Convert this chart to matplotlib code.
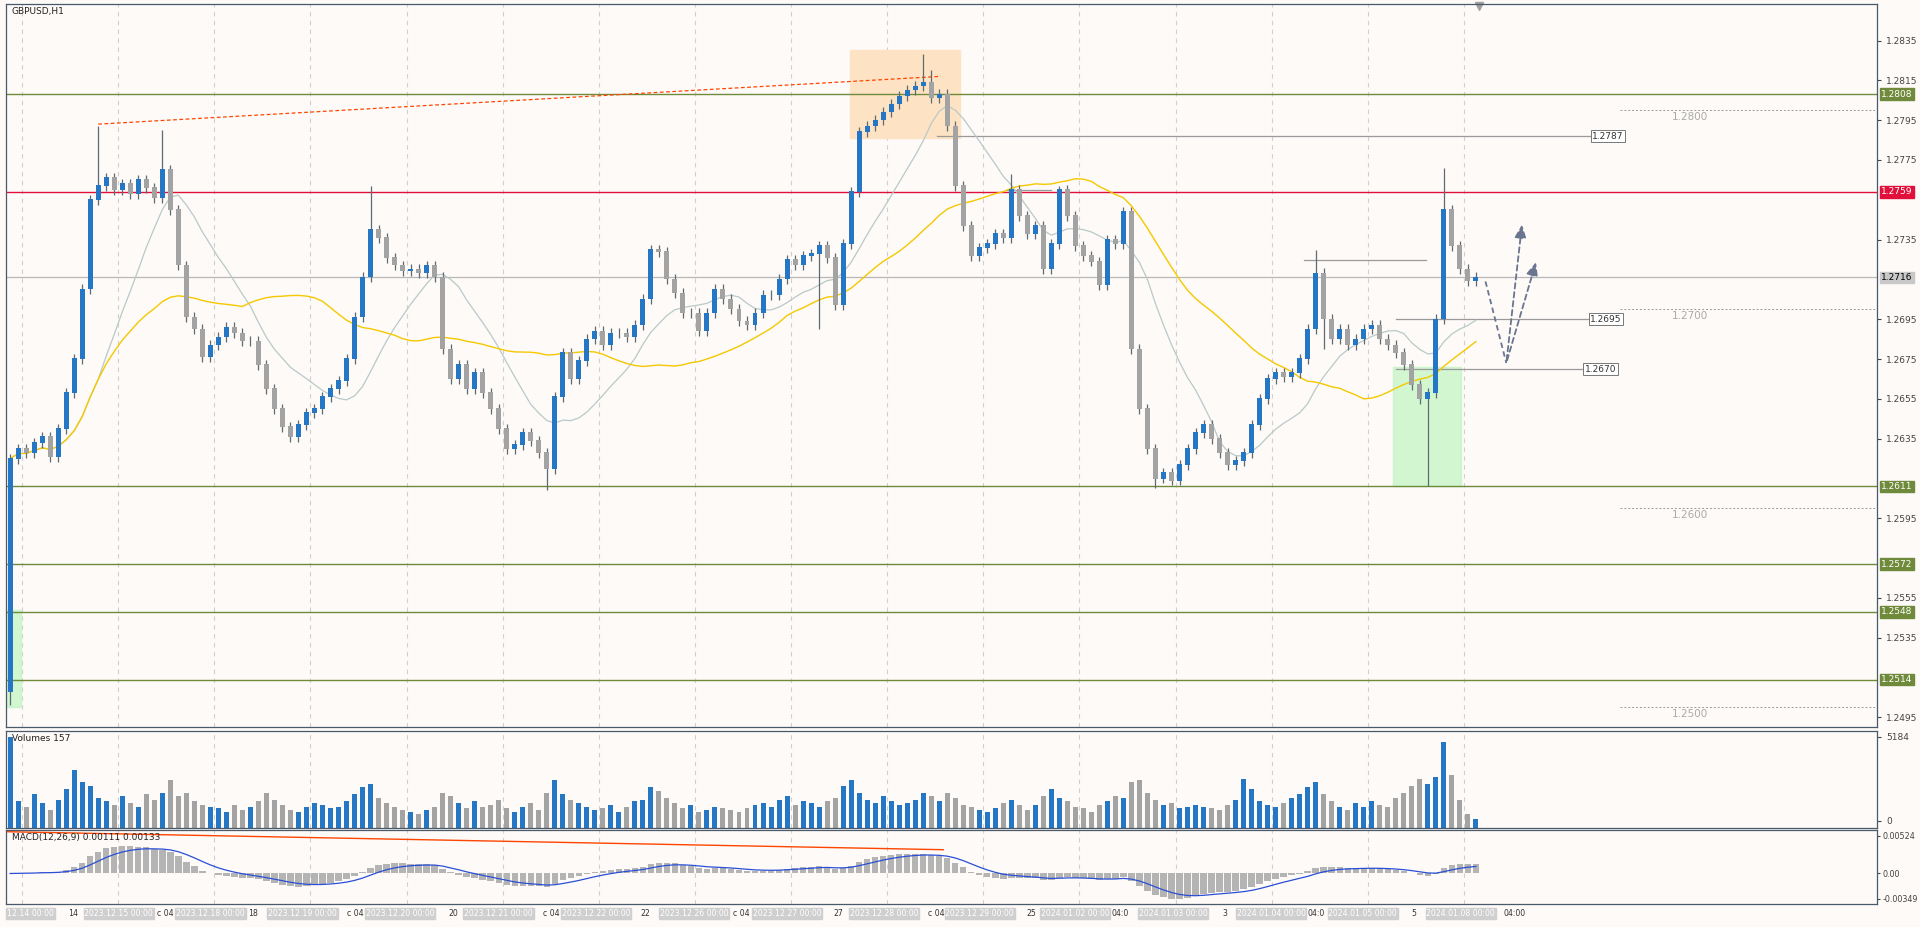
import numpy as np
import pandas as pd
import matplotlib
matplotlib.use("Agg")
import matplotlib.pyplot as plt
from matplotlib.patches import Rectangle
from matplotlib.transforms import blended_transform_factory as btf

# ---- data (2-hour bars, close in pips above 1.2500) ----
first_open = 8
closes = [125,130,128,133,136,126,140,158,175,210,
          255,262,266,260,263,258,265,261,256,270,
          250,222,196,190,176,182,186,191,188,184,
          184,172,160,150,141,136,142,148,150,156,
          160,164,175,196,216,240,236,226,222,219,
          220,218,222,216,180,165,172,160,168,158,
          150,140,130,132,138,134,128,120,156,178,
          165,174,185,189,182,188,188,186,192,205,
          230,229,215,208,198,198,189,198,210,205,
          200,194,192,198,207,207,215,225,222,227,
          228,232,226,202,233,259,289,292,295,299,
          303,307,310,312,314,306,308,292,262,242,
          227,231,233,238,236,260,247,238,242,220,
          233,260,247,232,227,224,212,235,233,249,
          180,150,130,115,118,114,122,130,138,142,
          135,128,122,124,128,142,155,165,168,166,
          168,175,190,218,195,185,190,182,185,190,
          192,185,182,178,172,162,155,158,195,250,
          232,220,214,216]
high_marks = {11: 292, 19: 290, 45: 262, 114: 328, 115: 320, 125: 268, 131: 262, 163: 230, 179: 271}
low_marks = {0: 1, 67: 109, 101: 190, 143: 110, 177: 111, 164: 180}
volumes = [5184,1500,1200,1900,1400,1000,1600,2200,3300,2600,
           2400,1700,1500,1300,1800,1400,1200,1900,1600,2000,
           2700,1800,2000,1500,1300,1200,1100,900,1300,1000,
           1200,1500,2000,1600,1300,1000,900,1200,1400,1300,
           1100,1200,1500,1900,2300,2500,1700,1400,1200,1000,
           900,800,1000,1200,2000,1800,1400,1100,1500,1200,
           1300,1600,1100,900,1200,1400,1000,2000,2700,1900,
           1600,1400,1200,1000,1100,1300,900,1200,1500,1600,
           2300,2100,1700,1400,1100,1300,900,1000,1200,1100,
           1000,900,1100,1300,1400,1200,1600,1800,1300,1500,
           1400,1200,1500,1700,2400,2700,2000,1600,1400,1800,
           1500,1300,1400,1600,2000,1800,1500,2000,1700,1300,
           1200,1000,900,1100,1400,1600,1300,1000,1300,1800,
           2200,1700,1500,1200,1100,900,1300,1500,1800,1700,
           2600,2700,2000,1600,1300,1400,1100,1200,1300,1200,
           1100,1000,1300,1600,2800,2200,1500,1300,1200,1400,
           1700,1900,2300,2600,1900,1500,1200,1000,1400,1200,
           1500,1300,1200,1700,2000,2400,2800,2500,2900,4900,
           3000,1600,800,500]
h_levels = [1.2808, 1.2611, 1.2572, 1.2548, 1.2514]
red_level = 1.2759
price_now = 1.2716
round_levels = ["1.2800", "1.2700", "1.2600", "1.2500"]
seg_levels = [(1.2787, 115.7, 197.5), (1.2695, 173.0, 197.3), (1.2670, 173.0, 196.6)]
date_labels = [(25, "12.14 00:00", True), (60, "14", False), (97, "2023.12.15 00:00", True), (135, "c 04", False),
               (172, "2023.12.18 00:00", True), (207, "18", False), (247, "2023.12.19 00:00", True), (290, "c 04", False),
               (327, "2023.12.20 00:00", True), (370, "20", False), (407, "2023.12.21 00:00", True), (450, "c 04", False),
               (487, "2023.12.22 00:00", True), (527, "22", False), (567, "2023.12.26 00:00", True), (605, "c 04", False),
               (643, "2023.12.27 00:00", True), (685, "27", False), (722, "2023.12.28 00:00", True), (765, "c 04", False),
               (800, "2023.12.29 00:00", True), (842, "25", False), (878, "2024.01.02 00:00", True), (915, "04:0", False),
               (958, "2024.01.03 00:00", True), (1000, "3", False), (1038, "2024.01.04 00:00", True), (1075, "04:0", False),
               (1113, "2024.01.05 00:00", True), (1155, "5", False), (1193, "2024.01.08 00:00", True), (1237, "04:00", False)]

# ---- derived series ----
c = 1.25 + np.array(closes) / 10000.0
o = np.concatenate([[1.25 + first_open / 10000.0], c[:-1]])
n = len(c)
idx = np.arange(n)
hi = np.maximum(o, c) + 0.00025
lo = np.minimum(o, c) - 0.00025
for k, v in high_marks.items():
    hi[k] = 1.25 + v / 10000.0
for k, v in low_marks.items():
    lo[k] = 1.25 + v / 10000.0
s = pd.Series(c)
ma_fast = s.rolling(12, min_periods=1).mean()
ma_slow = s.rolling(30, min_periods=1).mean()
macd = s.ewm(span=9, adjust=False).mean() - s.ewm(span=20, adjust=False).mean()
signal = macd.ewm(span=6, adjust=False).mean()

BG = "#fdfaf8"
BLUE = "#2676c6"
GRAY = "#a3a3a3"
WICK = "#5f6b73"
OLIVE = "#6f8a3a"
W, H = 1568.0, 757.0

fig = plt.figure(figsize=(19.2, 9.27), dpi=100, facecolor=BG)
ax = fig.add_axes([5 / W, 1 - 594 / H, 1528 / W, 591 / H], facecolor=BG)
axv = fig.add_axes([5 / W, 1 - 676 / H, 1528 / W, 79 / H], facecolor=BG)
axm = fig.add_axes([5 / W, 1 - 738 / H, 1528 / W, 60 / H], facecolor=BG)
XL = (-0.5, 233.1)
grid_x = 1.5 + 12 * np.arange(16)
for a in (ax, axv, axm):
    a.set_xlim(*XL)
    a.set_xticks([])
    for g in grid_x:
        a.axvline(g, color="#cfcfcf", lw=0.8, ls=(0, (4, 4)), zorder=0)
    for sp in a.spines.values():
        sp.set_color("#4a5a6a")
        sp.set_linewidth(0.9)
    a.yaxis.tick_right()
    a.tick_params(axis="y", labelsize=6.5, colors="#444444", length=3)

# main
ax.set_ylim(1.2490, 1.28535)
tick_vals = [v for v in np.round(np.arange(1.2495, 1.2836, 0.002), 4)
             if min(abs(v - l) for l in h_levels + [red_level, price_now]) > 0.0006]
ax.set_yticks(tick_vals)
ax.set_yticklabels([f"{v:.4f}" for v in tick_vals])
ax.add_patch(Rectangle((104.8, 1.2786), 13.8, 0.0044, color="#fde3c3", zorder=1))
ax.add_patch(Rectangle((172.6, 1.2611), 8.5, 0.0060, color="#c6f5c6", zorder=1, alpha=0.8))
ax.add_patch(Rectangle((-0.5, 1.2500), 1.8, 0.0049, color="#c6f5c6", zorder=1, alpha=0.8))
for lv in h_levels:
    ax.axhline(lv, color=OLIVE, lw=1.0, zorder=2)
ax.axhline(red_level, color="#e0103a", lw=1.0, zorder=2)
ax.axhline(price_now, color="#b8b8b8", lw=0.9, zorder=2)
for lv, x0, x1 in seg_levels:
    ax.plot([x0, x1], [lv, lv], color="#9a9a9a", lw=0.9, zorder=2)
    ax.text(x1, lv, f"{lv:.4f}", fontsize=6.5, va="center", ha="left", color="#333333",
            bbox=dict(boxstyle="square,pad=0.15", fc="white", ec="#777777", lw=0.7), zorder=6)
ax.plot([161.6, 176.8], [1.2725, 1.2725], color="#9a9a9a", lw=0.9, zorder=2)
ax.plot([124.4, 130.0], [1.2760, 1.2760], color="#9a9a9a", lw=0.9, zorder=2)
ax.plot([11.0, 116.2], [1.2793, 1.2817], color="#ff4500", lw=0.9, ls=(0, (3, 2)), zorder=3)
for i, lab in enumerate(round_levels):
    v = float(lab)
    ax.plot([201.0, 233.1], [v, v], color="#9a9a9a", lw=0.7, ls=(0, (2, 2)), zorder=2)
    ax.text(207.5, v - 0.00035, lab, fontsize=7.5, color="#aaaaaa", va="center", ha="left")

ax.plot(idx, ma_fast, color="#b9c9c9", lw=0.9, zorder=3)
ax.plot(idx, ma_slow, color="#f5c800", lw=1.0, zorder=3)
up = c >= o
cols = np.where(up, BLUE, GRAY)
ax.vlines(idx, lo, hi, color=WICK, lw=0.9, zorder=4)
ax.bar(idx, np.abs(c - o) + 0.00003, bottom=np.minimum(o, c), width=0.62, color=cols, zorder=5)

# dashed forecast arrows
arr = dict(arrowstyle="-|>,head_width=0.35,head_length=0.8", color="#6a7590", lw=1.3, ls=(0, (3, 2)))
ax.plot([184.2, 186.8], [1.2714, 1.2673], color="#6a7590", lw=1.3, ls=(0, (3, 2)), zorder=6)
ax.annotate("", xy=(188.8, 1.2744), xytext=(186.8, 1.2673), arrowprops=arr, zorder=6)
ax.annotate("", xy=(190.6, 1.2725), xytext=(186.8, 1.2673), arrowprops=arr, zorder=6)

tr = btf(ax.transAxes, ax.transData)
for lv in h_levels:
    ax.text(1.002, lv, f"{lv:.4f}", transform=tr, fontsize=6.5, color="white", va="center", ha="left",
            bbox=dict(boxstyle="square,pad=0.15", fc=OLIVE, ec=OLIVE), zorder=7, clip_on=False)
ax.text(1.002, red_level, f"{red_level:.4f}", transform=tr, fontsize=6.5, color="white", va="center",
        bbox=dict(boxstyle="square,pad=0.15", fc="#e0103a", ec="#e0103a"), clip_on=False)
ax.text(1.002, price_now, f"{price_now:.4f}", transform=tr, fontsize=6.5, color="black", va="center",
        bbox=dict(boxstyle="square,pad=0.15", fc="#c8c8c8", ec="#c8c8c8"), clip_on=False)
ax.text(0.003, 0.995, "GBPUSD,H1", transform=ax.transAxes, fontsize=6.5, va="top", color="#222222")
ax.plot([0.787], [0.997], marker="v", color="#a0a0a0", ms=6, transform=ax.transAxes, clip_on=False)

# volumes
axv.set_ylim(0, 5500)
axv.set_yticks([400, 5184])
axv.set_yticklabels(["0", "5184"])
axv.bar(idx, volumes, width=0.62, color=cols)
axv.text(0.003, 0.97, "Volumes 157", transform=axv.transAxes, fontsize=6.5, va="top", color="#222222")

# macd
axm.set_ylim(-0.0042, 0.0060)
axm.set_yticks([-0.00349, 0.0, 0.00524])
axm.set_yticklabels(["-0.00349", "0.00", "0.00524"])
axm.tick_params(axis="y", labelsize=5.8, length=2, pad=2)
axm.bar(idx, macd, width=0.8, color="#b4b4b4")
axm.plot(idx, signal, color="#2a4fd6", lw=0.9)
axm.plot([-0.5, 116.5], [0.0058, 0.0033], color="#ff4500", lw=1.0)
axm.text(0.003, 0.96, "MACD(12,26,9) 0.00111 0.00133", transform=axm.transAxes, fontsize=6.5,
         va="top", color="#222222")

for x, t, boxed in date_labels:
    if boxed:
        fig.text(x / W, 1 - 746 / H, t, fontsize=5.6, color="white", ha="center", va="center",
                 bbox=dict(boxstyle="square,pad=0.1", fc="#cfcfcf", ec="#cfcfcf"))
    else:
        fig.text(x / W, 1 - 746 / H, t, fontsize=5.6, color="#333333", ha="center", va="center")

fig.savefig("out.png", dpi=100, facecolor=BG)
